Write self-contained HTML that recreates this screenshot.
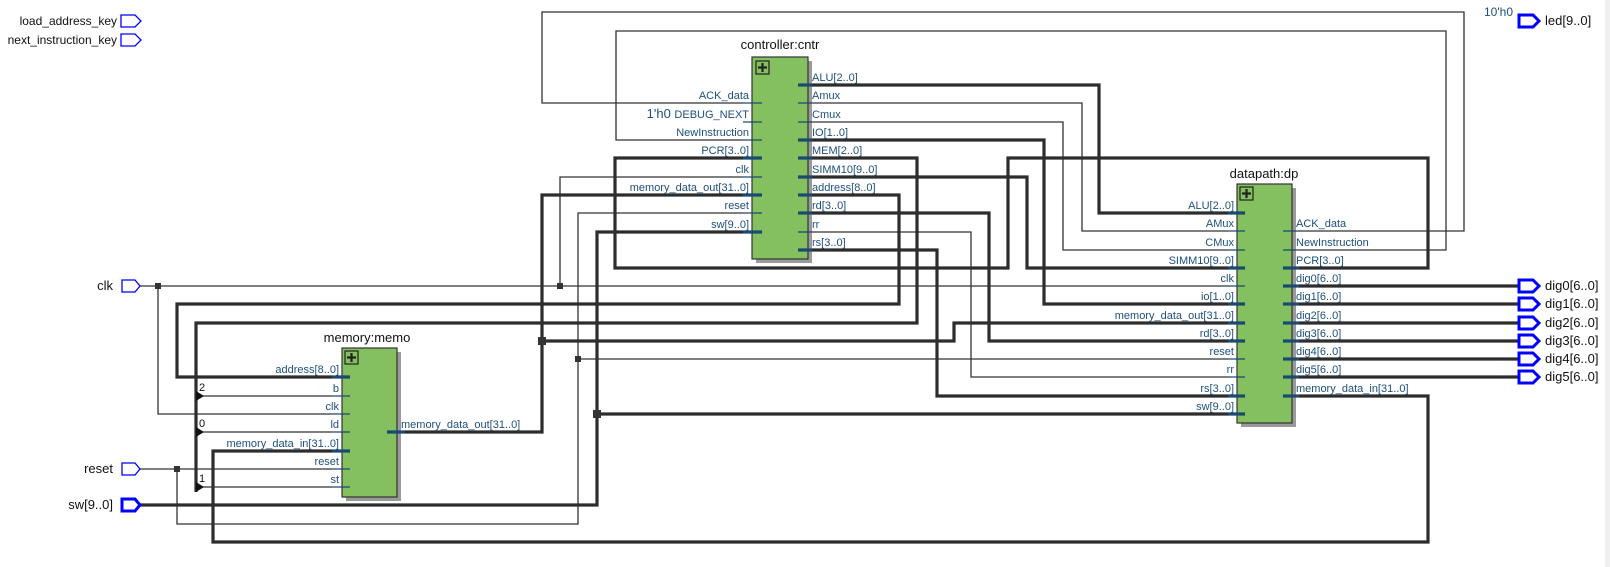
<!DOCTYPE html>
<html><head><meta charset="utf-8"><style>
html,body{margin:0;padding:0;background:#fff;}
svg{display:block;font-family:"Liberation Sans","DejaVu Sans",sans-serif;}
.t{stroke:#333;stroke-width:1.3;fill:none;}
.k{stroke:#2d2d2d;stroke-width:3.2;fill:none;}
.lb{font-size:11px;fill:#1d4f7c;}
.ti{font-size:13px;fill:#111;}
.pt{fill:#fff;stroke:#0000ff;stroke-width:1.3;}
.pk{fill:#fff;stroke:#0000ff;stroke-width:3;}
.st{stroke:#1a4a72;stroke-width:1.3;}
.sk{stroke:#1a4a72;stroke-width:3.2;}
</style></head><body>
<svg width="1610" height="567" viewBox="0 0 1610 567" xmlns="http://www.w3.org/2000/svg">
<rect x="1605" y="0" width="5" height="567" fill="#f0f0f0"/>
<polyline class="t" points="1299,231 1464,231 1464,12 542,12 542,103 743,103"/>
<polyline class="t" points="1299,250 1446,250 1446,31 616,31 616,140 743,140"/>
<polyline class="t" points="812,103 1082,103 1082,231 1228,231"/>
<polyline class="t" points="812,122 1063,122 1063,250 1228,250"/>
<polyline class="t" points="743,177 560,177 560,286"/>
<polyline class="t" points="140,286 1228,286"/>
<polyline class="t" points="158,286 158,414 332,414"/>
<polyline class="t" points="812,232 971,232 971,377 1228,377"/>
<polyline class="t" points="140,469 332,469"/>
<polyline class="t" points="177,469 177,524 578,524 578,213 743,213"/>
<polyline class="t" points="578,359 1228,359"/>
<polyline class="t" points="196,396 332,396"/>
<polyline class="t" points="196,432 332,432"/>
<polyline class="t" points="196,487 332,487"/>
<polyline class="k" points="1299,268 1428,268 1428,158 1008,158 1008,268 615,268 615,158 743,158"/>
<polyline class="k" points="812,85 1099,85 1099,213 1228,213"/>
<polyline class="k" points="812,140 1044,140 1044,304 1228,304"/>
<polyline class="k" points="812,158 917,158 917,323 196,323 196,492"/>
<polyline class="k" points="812,177 1027,177 1027,268 1228,268"/>
<polyline class="k" points="812,195 899,195 899,304 177,304 177,377 332,377"/>
<polyline class="k" points="812,213 989,213 989,341 1228,341"/>
<polyline class="k" points="812,250 937,250 937,396 1228,396"/>
<polyline class="k" points="743,195 542,195 542,432 405,432"/>
<polyline class="k" points="542,341 954,341 954,323 1228,323"/>
<polyline class="k" points="140,505 597,505 597,232 743,232"/>
<polyline class="k" points="597,414 1228,414"/>
<polyline class="k" points="1299,396 1428,396 1428,542 213,542 213,451 332,451"/>
<polyline class="k" points="1299,286 1520,286"/>
<polyline class="k" points="1299,304 1520,304"/>
<polyline class="k" points="1299,323 1520,323"/>
<polyline class="k" points="1299,341 1520,341"/>
<polyline class="k" points="1299,359 1520,359"/>
<polyline class="k" points="1299,377 1520,377"/>
<rect x="155" y="283" width="6" height="6" fill="#333"/>
<rect x="174" y="466" width="6" height="6" fill="#333"/>
<rect x="557" y="283" width="6" height="6" fill="#333"/>
<rect x="575" y="356" width="6" height="6" fill="#333"/>
<rect x="538" y="337" width="8" height="8" fill="#333"/>
<rect x="593" y="410" width="8" height="8" fill="#333"/>
<polygon points="196,391 204,396 196,401" fill="#111"/>
<polygon points="196,427 204,432 196,437" fill="#111"/>
<polygon points="196,482 204,487 196,492" fill="#111"/>
<text x="199" y="391" font-size="11" fill="#111">2</text>
<text x="199" y="427" font-size="11" fill="#111">0</text>
<text x="199" y="482" font-size="11" fill="#111">1</text>

<rect x="756" y="61" width="56" height="202" fill="#9a9a9a"/>
<rect x="752" y="57" width="56" height="202" fill="#84c060" stroke="#333" stroke-width="1.2"/>
<rect x="756" y="61" width="13" height="13" fill="none" stroke="#222" stroke-width="1.2"/>
<path d="M762.5,63v9M758,67.5h9" stroke="#222" stroke-width="2.2"/>
<text x="780" y="49" class="ti" text-anchor="middle">controller:cntr</text>
<g>
<line class="st" x1="743" y1="103" x2="762" y2="103"/>
<line class="st" x1="743" y1="122" x2="762" y2="122"/>
<line class="st" x1="743" y1="140" x2="762" y2="140"/>
<line class="sk" x1="743" y1="158" x2="762" y2="158"/>
<line class="st" x1="743" y1="177" x2="762" y2="177"/>
<line class="sk" x1="743" y1="195" x2="762" y2="195"/>
<line class="st" x1="743" y1="213" x2="762" y2="213"/>
<line class="sk" x1="743" y1="232" x2="762" y2="232"/>
<line class="sk" x1="798" y1="85" x2="812" y2="85"/>
<line class="st" x1="798" y1="103" x2="812" y2="103"/>
<line class="st" x1="798" y1="122" x2="812" y2="122"/>
<line class="sk" x1="798" y1="140" x2="812" y2="140"/>
<line class="sk" x1="798" y1="158" x2="812" y2="158"/>
<line class="sk" x1="798" y1="177" x2="812" y2="177"/>
<line class="sk" x1="798" y1="195" x2="812" y2="195"/>
<line class="sk" x1="798" y1="213" x2="812" y2="213"/>
<line class="st" x1="798" y1="232" x2="812" y2="232"/>
<line class="sk" x1="798" y1="250" x2="812" y2="250"/>
</g>
<g class="lb" text-anchor="end">
<text x="749" y="99">ACK_data</text>
<text x="749" y="118"><tspan font-size="13">1'h0 </tspan>DEBUG_NEXT</text>
<text x="749" y="136">NewInstruction</text>
<text x="749" y="154">PCR[3..0]</text>
<text x="749" y="173">clk</text>
<text x="749" y="191">memory_data_out[31..0]</text>
<text x="749" y="209">reset</text>
<text x="749" y="228">sw[9..0]</text>
</g>
<g class="lb">
<text x="812" y="81">ALU[2..0]</text>
<text x="812" y="99">Amux</text>
<text x="812" y="118">Cmux</text>
<text x="812" y="136">IO[1..0]</text>
<text x="812" y="154">MEM[2..0]</text>
<text x="812" y="173">SIMM10[9..0]</text>
<text x="812" y="191">address[8..0]</text>
<text x="812" y="209">rd[3..0]</text>
<text x="812" y="228">rr</text>
<text x="812" y="246">rs[3..0]</text>
</g>

<rect x="1241" y="188" width="55" height="239" fill="#9a9a9a"/>
<rect x="1237" y="184" width="55" height="239" fill="#84c060" stroke="#333" stroke-width="1.2"/>
<rect x="1240" y="187" width="13" height="13" fill="none" stroke="#222" stroke-width="1.2"/>
<path d="M1246.5,189v9M1242,193.5h9" stroke="#222" stroke-width="2.2"/>
<text x="1264" y="178" class="ti" text-anchor="middle">datapath:dp</text>
<g>
<line class="sk" x1="1228" y1="213" x2="1245" y2="213"/>
<line class="st" x1="1228" y1="231" x2="1245" y2="231"/>
<line class="st" x1="1228" y1="250" x2="1245" y2="250"/>
<line class="sk" x1="1228" y1="268" x2="1245" y2="268"/>
<line class="st" x1="1228" y1="286" x2="1245" y2="286"/>
<line class="sk" x1="1228" y1="304" x2="1245" y2="304"/>
<line class="sk" x1="1228" y1="323" x2="1245" y2="323"/>
<line class="sk" x1="1228" y1="341" x2="1245" y2="341"/>
<line class="st" x1="1228" y1="359" x2="1245" y2="359"/>
<line class="st" x1="1228" y1="377" x2="1245" y2="377"/>
<line class="sk" x1="1228" y1="396" x2="1245" y2="396"/>
<line class="sk" x1="1228" y1="414" x2="1245" y2="414"/>
<line class="st" x1="1283" y1="231" x2="1299" y2="231"/>
<line class="st" x1="1283" y1="250" x2="1299" y2="250"/>
<line class="sk" x1="1283" y1="268" x2="1299" y2="268"/>
<line class="sk" x1="1283" y1="286" x2="1299" y2="286"/>
<line class="sk" x1="1283" y1="304" x2="1299" y2="304"/>
<line class="sk" x1="1283" y1="323" x2="1299" y2="323"/>
<line class="sk" x1="1283" y1="341" x2="1299" y2="341"/>
<line class="sk" x1="1283" y1="359" x2="1299" y2="359"/>
<line class="sk" x1="1283" y1="377" x2="1299" y2="377"/>
<line class="sk" x1="1283" y1="396" x2="1299" y2="396"/>
</g>
<g class="lb" text-anchor="end">
<text x="1234" y="209">ALU[2..0]</text>
<text x="1234" y="227">AMux</text>
<text x="1234" y="246">CMux</text>
<text x="1234" y="264">SIMM10[9..0]</text>
<text x="1234" y="282">clk</text>
<text x="1234" y="300">io[1..0]</text>
<text x="1234" y="319">memory_data_out[31..0]</text>
<text x="1234" y="337">rd[3..0]</text>
<text x="1234" y="355">reset</text>
<text x="1234" y="373">rr</text>
<text x="1234" y="392">rs[3..0]</text>
<text x="1234" y="410">sw[9..0]</text>
</g>
<g class="lb">
<text x="1296" y="227">ACK_data</text>
<text x="1296" y="246">NewInstruction</text>
<text x="1296" y="264">PCR[3..0]</text>
<text x="1296" y="282">dig0[6..0]</text>
<text x="1296" y="300">dig1[6..0]</text>
<text x="1296" y="319">dig2[6..0]</text>
<text x="1296" y="337">dig3[6..0]</text>
<text x="1296" y="355">dig4[6..0]</text>
<text x="1296" y="373">dig5[6..0]</text>
<text x="1296" y="392">memory_data_in[31..0]</text>
</g>

<rect x="346" y="352" width="55" height="149" fill="#9a9a9a"/>
<rect x="342" y="348" width="55" height="149" fill="#84c060" stroke="#333" stroke-width="1.2"/>
<rect x="345" y="351" width="13" height="13" fill="none" stroke="#222" stroke-width="1.2"/>
<path d="M351.5,353v9M347,357.5h9" stroke="#222" stroke-width="2.2"/>
<text x="367" y="342" class="ti" text-anchor="middle">memory:memo</text>
<g>
<line class="sk" x1="332" y1="377" x2="350" y2="377"/>
<line class="st" x1="332" y1="396" x2="350" y2="396"/>
<line class="st" x1="332" y1="414" x2="350" y2="414"/>
<line class="st" x1="332" y1="432" x2="350" y2="432"/>
<line class="sk" x1="332" y1="451" x2="350" y2="451"/>
<line class="st" x1="332" y1="469" x2="350" y2="469"/>
<line class="st" x1="332" y1="487" x2="350" y2="487"/>
<line class="sk" x1="387" y1="432" x2="405" y2="432"/>
</g>
<g class="lb" text-anchor="end">
<text x="339" y="373">address[8..0]</text>
<text x="339" y="392">b</text>
<text x="339" y="410">clk</text>
<text x="339" y="428">ld</text>
<text x="339" y="447">memory_data_in[31..0]</text>
<text x="339" y="465">reset</text>
<text x="339" y="483">st</text>
</g>
<text x="401" y="428" class="lb">memory_data_out[31..0]</text>

<polygon class="pt" points="121,15 135,15 141,21 135,27 121,27"/>
<polygon class="pt" points="121,34 135,34 141,40 135,46 121,46"/>
<text x="117" y="25" font-size="12" fill="#111" text-anchor="end">load_address_key</text>
<text x="117" y="44" font-size="12" fill="#111" text-anchor="end">next_instruction_key</text>
<polygon class="pt" points="122,280 135,280 140,286 135,292 122,292"/>
<text x="113" y="290" font-size="13" fill="#111" text-anchor="end">clk</text>
<polygon class="pt" points="122,463 135,463 140,469 135,475 122,475"/>
<text x="113" y="473" font-size="13" fill="#111" text-anchor="end">reset</text>
<polygon class="pk" points="122,499 135,499 140,505 135,511 122,511"/>
<text x="113" y="509" font-size="13" fill="#111" text-anchor="end">sw[9..0]</text>

<polygon class="pk" points="1519,15 1533,15 1539,21 1533,27 1519,27"/>
<text x="1513" y="16" font-size="12" fill="#1d4f7c" text-anchor="end">10'h0</text>
<text x="1545" y="25" font-size="13" fill="#111">led[9..0]</text>
<g font-size="13" fill="#111">
<polygon class="pk" points="1519,280 1533,280 1539,286 1533,292 1519,292"/><text x="1545" y="290">dig0[6..0]</text>
<polygon class="pk" points="1519,298 1533,298 1539,304 1533,310 1519,310"/><text x="1545" y="308">dig1[6..0]</text>
<polygon class="pk" points="1519,317 1533,317 1539,323 1533,329 1519,329"/><text x="1545" y="327">dig2[6..0]</text>
<polygon class="pk" points="1519,335 1533,335 1539,341 1533,347 1519,347"/><text x="1545" y="345">dig3[6..0]</text>
<polygon class="pk" points="1519,353 1533,353 1539,359 1533,365 1519,365"/><text x="1545" y="363">dig4[6..0]</text>
<polygon class="pk" points="1519,371 1533,371 1539,377 1533,383 1519,383"/><text x="1545" y="381">dig5[6..0]</text>
</g>
</svg>
</body></html>
